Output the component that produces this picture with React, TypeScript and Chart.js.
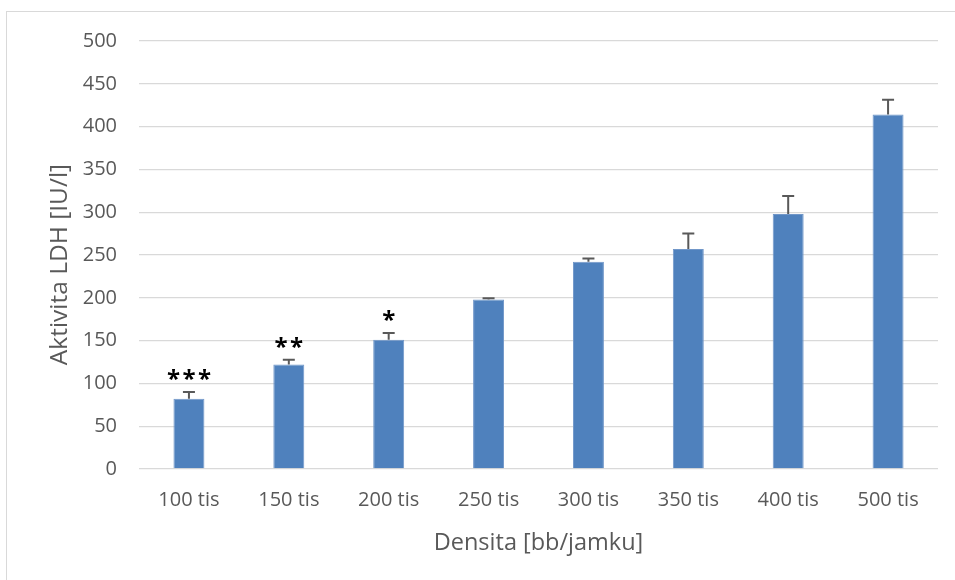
import { useEffect, useRef } from 'react';
import { Chart, registerables, Plugin } from 'chart.js';

Chart.register(...registerables);

const categories = ['100 tis', '150 tis', '200 tis', '250 tis', '300 tis', '350 tis', '400 tis', '500 tis'];
const ldhValues = [82, 122, 151, 198, 242, 257, 298, 414];
const ldhErrors = [8, 5.5, 8, 1.5, 4, 18, 21, 17.5];
const significance = ['***', '**', '*', '', '', '', '', ''];

const FONT = "'Open Sans', sans-serif";

// plus-only error bars with caps, then the significance stars above them
const errorBarPlugin: Plugin<'bar'> = {
  id: 'errorBars',
  afterDatasetsDraw(chart) {
    const { ctx } = chart;
    const yScale = chart.scales.y;
    const meta = chart.getDatasetMeta(0);
    ctx.save();
    meta.data.forEach((bar: any, i: number) => {
      const top = yScale.getPixelForValue(ldhValues[i] + ldhErrors[i]);
      ctx.strokeStyle = '#595959';
      ctx.lineWidth = 2;
      ctx.beginPath();
      ctx.moveTo(bar.x, bar.y);
      ctx.lineTo(bar.x, top);
      ctx.moveTo(bar.x - 6, top);
      ctx.lineTo(bar.x + 6, top);
      ctx.stroke();

      if (significance[i]) {
        ctx.fillStyle = '#000000';
        ctx.font = `bold 24px ${FONT}`;
        ctx.textAlign = 'center';
        ctx.textBaseline = 'alphabetic';
        ctx.fillText(significance[i].split('').join('\u200a'), bar.x, top - 5);
      }
    });
    ctx.restore();
  },
};

const LdhChart = () => {
  const chartRef = useRef<HTMLCanvasElement | null>(null);
  const chartInstance = useRef<Chart | null>(null);

  useEffect(() => {
    if (!chartRef.current) return;
    const ctx = chartRef.current.getContext('2d');
    if (!ctx) return;

    if (chartInstance.current) {
      chartInstance.current.destroy();
    }

    chartInstance.current = new Chart(ctx, {
      type: 'bar',
      data: {
        labels: categories,
        datasets: [
          {
            data: ldhValues,
            backgroundColor: '#4f81bd',
            borderColor: '#7197c9',
            borderWidth: 1,
            barPercentage: 0.31,
            categoryPercentage: 1,
          },
        ],
      },
      options: {
        responsive: true,
        maintainAspectRatio: false,
        animation: false,
        layout: {
          padding: { top: 41, right: 17, left: 0, bottom: 0 },
        },
        plugins: {
          legend: { display: false },
          tooltip: { enabled: false },
        },
        scales: {
          x: {
            grid: { display: false, drawTicks: false },
            border: { display: false },
            ticks: {
              color: '#595959',
              padding: 19,
              font: { family: FONT, size: 20 },
            },
            title: {
              display: true,
              text: 'Densita [bb/jamku]',
              color: '#595959',
              padding: { top: 0, bottom: 23 },
              font: { family: FONT, size: 23.5 },
            },
            afterFit: (scale: any) => {
              scale.height = 111;
            },
          },
          y: {
            min: 0,
            max: 500,
            grid: { color: '#d9d9d9', lineWidth: 1.3, drawTicks: false },
            border: { display: false },
            ticks: {
              stepSize: 50,
              color: '#595959',
              padding: 22,
              font: { family: FONT, size: 20 },
            },
            title: {
              display: true,
              text: 'Aktivita LDH [IU/l]   ',
              color: '#595959',
              padding: { top: 45, bottom: 0 },
              font: { family: FONT, size: 24.5 },
            },
            afterFit: (scale: any) => {
              scale.width = 139;
            },
          },
        },
      },
      plugins: [errorBarPlugin],
    });

    return () => {
      if (chartInstance.current) {
        chartInstance.current.destroy();
        chartInstance.current = null;
      }
    };
  }, []);

  return <canvas ref={chartRef} />;
};

export default function App() {
  return (
    <div style={{ position: 'fixed', left: 0, top: 0, width: 955, height: 580, overflow: 'hidden', background: '#fff' }}>
      <div
        style={{
          position: 'absolute',
          left: 6,
          top: 11,
          width: 1000,
          height: 1000,
          borderLeft: '1.5px solid #d9d9d9',
          borderTop: '1.5px solid #d9d9d9',
        }}
      />
      <div style={{ position: 'absolute', left: 0, top: 0, width: 955, height: 580 }}>
        <LdhChart />
      </div>
    </div>
  );
}
